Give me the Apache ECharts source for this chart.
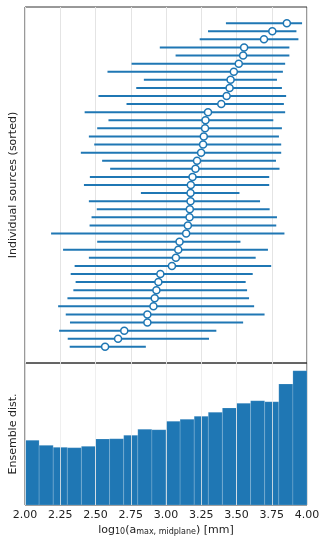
<!DOCTYPE html>
<html>
<head>
<meta charset="utf-8">
<style type="text/css">
    html, body { margin: 0; padding: 0; background: #fff; }
    #main { width: 328px; height: 546px; }
</style>
</head>
<body>
<div id="main"></div>
<script src="https://cdn.jsdelivr.net/npm/echarts@6/dist/echarts.min.js"></script>
<script>
    // per-source estimates, sorted, row 0 at the bottom
    var center = [2.568, 2.660, 2.704, 2.868, 2.868, 2.911, 2.920, 2.932, 2.946, 2.960,
                  3.042, 3.070, 3.087, 3.096, 3.143, 3.155, 3.167, 3.169, 3.174, 3.174,
                  3.176, 3.188, 3.209, 3.220, 3.249, 3.263, 3.268, 3.277, 3.280, 3.298,
                  3.392, 3.430, 3.451, 3.458, 3.481, 3.516, 3.547, 3.554, 3.695, 3.754, 3.857];
    var lower = [2.317, 2.303, 2.242, 2.319, 2.289, 2.235, 2.301, 2.343, 2.359, 2.324,
                 2.352, 2.453, 2.270, 2.512, 2.185, 2.458, 2.472, 2.509, 2.453, 2.822,
                 2.418, 2.460, 2.604, 2.547, 2.396, 2.491, 2.453, 2.512, 2.592, 2.423,
                 2.720, 2.521, 2.789, 2.843, 2.585, 2.756, 3.068, 2.956, 3.239, 3.298, 3.425];
    var upper = [2.857, 3.305, 3.357, 3.547, 3.699, 3.625, 3.589, 3.575, 3.565, 3.615,
                 3.746, 3.636, 3.723, 3.528, 3.840, 3.782, 3.787, 3.735, 3.667, 3.521,
                 3.732, 3.732, 3.805, 3.780, 3.817, 3.817, 3.801, 3.822, 3.761, 3.845,
                 3.836, 3.852, 3.822, 3.787, 3.829, 3.845, 3.875, 3.875, 3.939, 3.925, 3.965];

    // ensemble histogram, bins of 0.1 from 2.0 to 4.0
    var binEdges = [2.0, 2.1, 2.2, 2.3, 2.4, 2.5, 2.6, 2.7, 2.8, 2.9, 3.0,
                    3.1, 3.2, 3.3, 3.4, 3.5, 3.6, 3.7, 3.8, 3.9, 4.0];
    var histValues = [64.7, 59.7, 57.7, 57.3, 58.7, 66.0, 66.3, 69.7, 75.7, 75.3,
                      83.7, 85.7, 88.7, 92.7, 97.0, 101.7, 104.3, 103.3, 121.0, 134.3];

    var blue = '#1f77b4';
    var font = 'DejaVu Sans';

    var barData = [], dotData = [], histData = [];
    for (var i = 0; i < center.length; i++) {
        barData.push([lower[i], upper[i], i]);
        dotData.push([center[i], i]);
    }
    for (var j = 0; j < histValues.length; j++) {
        histData.push([binEdges[j], binEdges[j + 1], histValues[j]]);
    }

    var chart = echarts.init(document.getElementById('main'));
    var option = {
        animation: false,
        grid: [
            {left: 23, top: 7, width: 284, height: 356, show: true, borderColor: '#333', borderWidth: 1, backgroundColor: 'transparent'},
            {left: 23, top: 363, width: 284, height: 142, show: true, borderColor: '#333', borderWidth: 1, backgroundColor: 'transparent'}
        ],
        xAxis: [
            {
                gridIndex: 0, type: 'value', min: 2, max: 4, interval: 0.25,
                axisLine: {show: false}, axisTick: {show: false}, axisLabel: {show: false},
                splitLine: {show: true, lineStyle: {color: '#e4e4e4', width: 1}}
            },
            {
                gridIndex: 1, type: 'value', min: 2, max: 4, interval: 0.25, z: 5,
                axisLine: {show: false}, axisTick: {show: false},
                axisLabel: {
                    margin: 5, fontFamily: font, fontSize: 11, color: '#222',
                    formatter: function (v) { return v.toFixed(2); }
                },
                splitLine: {show: true, lineStyle: {color: 'rgba(235,235,235,0.8)', width: 1}},
                name: 'log{s|10}(a{s|max, midplane}) [mm]',
                nameLocation: 'middle', nameGap: 19,
                nameTextStyle: {
                    fontFamily: font, fontSize: 11, color: '#222',
                    rich: {s: {fontFamily: font, fontSize: 8, color: '#222', verticalAlign: 'bottom', padding: [4, 0, 0, 0]}}
                }
            }
        ],
        yAxis: [
            {
                gridIndex: 0, type: 'value', min: -2, max: 42,
                axisLine: {show: false}, axisTick: {show: false}, axisLabel: {show: false}, splitLine: {show: false},
                name: 'Individual sources (sorted)', nameLocation: 'middle', nameGap: 6,
                nameTextStyle: {fontFamily: font, fontSize: 11, color: '#222'}
            },
            {
                gridIndex: 1, type: 'value', min: 0, max: 142,
                axisLine: {show: false}, axisTick: {show: false}, axisLabel: {show: false}, splitLine: {show: false},
                name: 'Ensemble dist.', nameLocation: 'middle', nameGap: 6,
                nameTextStyle: {fontFamily: font, fontSize: 11, color: '#222'}
            }
        ],
        series: [
            {
                // error bars
                type: 'custom', xAxisIndex: 0, yAxisIndex: 0, data: barData,
                renderItem: function (params, api) {
                    var a = api.coord([api.value(0), api.value(2)]);
                    var b = api.coord([api.value(1), api.value(2)]);
                    return {
                        type: 'line',
                        shape: {x1: a[0], y1: a[1], x2: b[0], y2: b[1]},
                        style: {stroke: blue, lineWidth: 2}
                    };
                },
                z: 2
            },
            {
                type: 'scatter', xAxisIndex: 0, yAxisIndex: 0, data: dotData,
                symbol: 'circle', symbolSize: 7,
                itemStyle: {color: '#fff', borderColor: blue, borderWidth: 1.5, opacity: 1},
                z: 3
            },
            {
                // histogram
                type: 'custom', xAxisIndex: 1, yAxisIndex: 1, data: histData,
                renderItem: function (params, api) {
                    var p0 = api.coord([api.value(0), 0]);
                    var p1 = api.coord([api.value(1), api.value(2)]);
                    return {
                        type: 'rect',
                        shape: {x: p0[0], y: p1[1], width: p1[0] - p0[0], height: p0[1] - p1[1]},
                        style: {fill: blue, stroke: 'rgba(255,255,255,0.25)', lineWidth: 0.6}
                    };
                },
                z: 2
            }
        ]
    };
    chart.setOption(option);
</script>
</body>
</html>
